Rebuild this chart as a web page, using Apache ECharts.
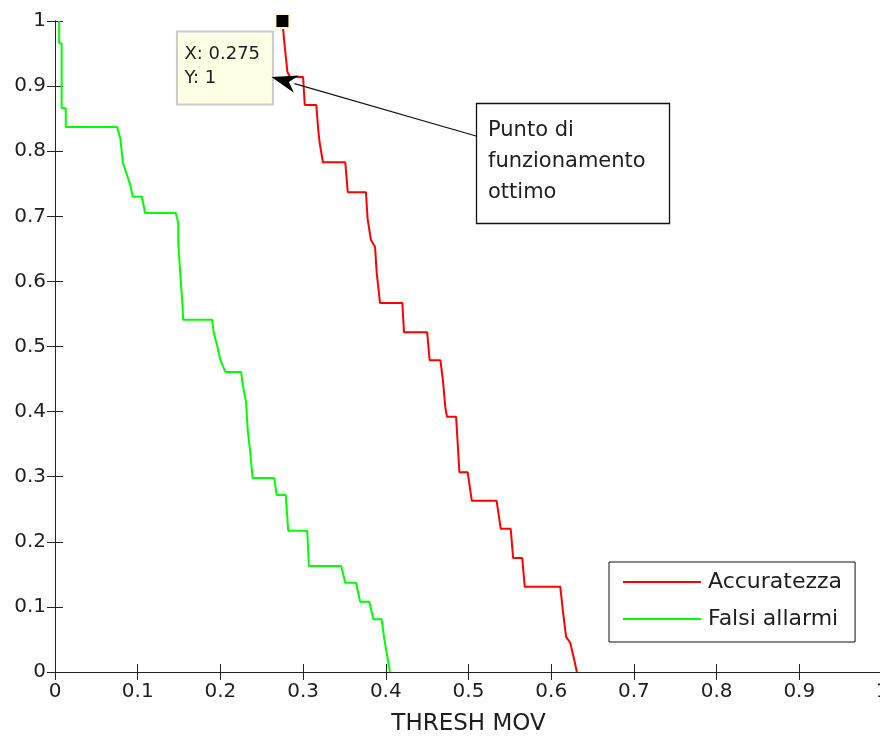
<!DOCTYPE html>
<html><head><meta charset="utf-8">
<script src="https://cdn.jsdelivr.net/npm/echarts@6/dist/echarts.min.js"></script>
<style>html,body{margin:0;padding:0;background:#fff}#c{width:880px;height:738px}</style>
</head><body><div id="c"></div>
<script>
// ---- data ----
const accX = [0.275,0.277,0.281,0.284,0.300,0.302,0.316,0.318,0.320,0.324,0.351,0.354,0.376,0.378,0.382,0.387,0.389,0.393,0.420,0.422,0.450,0.453,0.466,0.469,0.472,0.474,0.485,0.489,0.499,0.504,0.534,0.539,0.551,0.554,0.565,0.568,0.611,0.614,0.618,0.623,0.628,0.631];
const accY = [1.000,0.971,0.922,0.914,0.914,0.871,0.871,0.837,0.813,0.783,0.783,0.737,0.737,0.696,0.664,0.653,0.613,0.567,0.567,0.522,0.522,0.479,0.479,0.449,0.406,0.392,0.392,0.307,0.307,0.263,0.263,0.220,0.220,0.175,0.175,0.131,0.131,0.095,0.054,0.045,0.018,0.000];
const faX = [0.005,0.005,0.008,0.008,0.013,0.013,0.075,0.079,0.082,0.091,0.094,0.105,0.109,0.146,0.149,0.149,0.151,0.154,0.155,0.190,0.192,0.196,0.200,0.206,0.225,0.227,0.231,0.233,0.236,0.239,0.265,0.268,0.279,0.282,0.305,0.307,0.346,0.351,0.364,0.369,0.380,0.385,0.395,0.398,0.405];
const faY = [1.000,0.966,0.966,0.866,0.866,0.837,0.837,0.820,0.783,0.748,0.730,0.730,0.705,0.705,0.690,0.660,0.621,0.567,0.541,0.541,0.521,0.502,0.479,0.461,0.461,0.441,0.415,0.372,0.338,0.298,0.298,0.272,0.272,0.217,0.217,0.163,0.163,0.137,0.137,0.108,0.108,0.081,0.081,0.052,0.000];
const seriesNames = ['Accuratezza','Falsi allarmi'];
const optimum = [0.275, 1];
const tipLines = ['X: 0.275','Y: 1'];
const noteLines = ['Punto di','funzionamento','ottimo'];
const xTitle = 'THRESH MOV';

const zip = (xs, ys) => xs.map((x, i) => [x, ys[i]]);
const FONT = 'DejaVu Sans, Verdana, sans-serif';
const TXT = '#1e1e1e';
const chart = echarts.init(document.getElementById('c'), null, {renderer:'canvas'});

const axisCommon = {
  type:'value', min:0, max:1, interval:0.1,
  axisLine:{show:true, lineStyle:{color:'#222', width:1}},
  axisTick:{show:true, inside:true, length:8, lineStyle:{color:'#222'}},
  splitLine:{show:false}
};

chart.setOption({
  animation:false,
  backgroundColor:'#fff',
  grid:{left:55, top:21, width:827, height:651, containLabel:false, outerBoundsMode:'none'},
  xAxis:[
    Object.assign({}, axisCommon, {position:'bottom',
      axisLabel:{show:true, color:TXT, fontSize:20, fontFamily:FONT, margin:10},
      name:xTitle, nameLocation:'middle', nameGap:41,
      nameTextStyle:{color:TXT, fontSize:23, fontFamily:FONT}}),
    Object.assign({}, axisCommon, {position:'top', axisLabel:{show:false}})
  ],
  yAxis:[
    Object.assign({}, axisCommon, {position:'left',
      axisLabel:{show:true, color:TXT, fontSize:20, fontFamily:FONT, margin:9}}),
    Object.assign({}, axisCommon, {position:'right', axisLabel:{show:false}})
  ],
  legend:{
    orient:'vertical', left:609, top:562,
    backgroundColor:'#fff', borderColor:'#111', borderWidth:1,
    padding:[9,13,12,14], itemGap:15, itemWidth:78, itemHeight:2, icon:'rect',
    textStyle:{color:TXT, fontSize:22, lineHeight:22, fontFamily:FONT, padding:[0,0,0,2]},
    data:seriesNames
  },
  series:[
    {name:seriesNames[0], type:'line', data:zip(accX, accY), symbol:'none',
     lineStyle:{color:'#ff0000', width:2}, itemStyle:{color:'#ff0000'}, z:3,
     markPoint:{symbol:'rect', symbolSize:14, data:[{coord:optimum}],
       itemStyle:{color:'#000', borderColor:'#fffbcc', borderWidth:2}, label:{show:false}}},
    {name:seriesNames[1], type:'line', data:zip(faX, faY), symbol:'none',
     lineStyle:{color:'#00ff00', width:2}, itemStyle:{color:'#00ff00'}, z:3}
  ]
});

// annotations
const p = chart.convertToPixel({xAxisIndex:0, yAxisIndex:0}, optimum);
const tipBox = {x:p[0]-106, y:p[1]+10, w:96, h:73};
const note = {x:476, y:103, w:193, h:120};
const tip = [tipBox.x + tipBox.w - 1, p[1] + 56];
const start = [note.x, note.y + 33];
const dx = start[0]-tip[0], dy = start[1]-tip[1], L = Math.hypot(dx, dy);
const ux = dx/L, uy = dy/L, nx = -uy, ny = ux;
const hl = 26, hw = 9;
const bx = tip[0]+ux*hl, by = tip[1]+uy*hl;
const arrowPts = [tip, [bx+nx*hw, by+ny*hw], [tip[0]+ux*hl*0.7, tip[1]+uy*hl*0.7], [bx-nx*hw, by-ny*hw]];

chart.setOption({graphic:[
  {type:'rect', shape:{x:tipBox.x+0.5, y:tipBox.y+0.5, width:tipBox.w, height:tipBox.h},
   style:{fill:'#ffffe6', stroke:'#cacaca', lineWidth:2}, z:10},
  {type:'text', x:tipBox.x+8, y:tipBox.y+11, z:11,
   style:{text:tipLines.join('\n'), font:'18px '+FONT, fill:TXT, lineHeight:24}},
  {type:'line', shape:{x1:start[0], y1:start[1], x2:bx-ux*2, y2:by-uy*2},
   style:{stroke:'#111', lineWidth:1.3}, z:12},
  {type:'polygon', shape:{points:arrowPts}, style:{fill:'#000'}, z:12},
  {type:'rect', shape:{x:note.x+0.5, y:note.y+0.5, width:note.w, height:note.h},
   style:{fill:'#fff', stroke:'#111', lineWidth:1.3}, z:10},
  {type:'text', x:note.x+12, y:note.y+12, z:11,
   style:{text:noteLines.join('\n'), font:'21px '+FONT, fill:TXT, lineHeight:31}}
]});
</script>
</body></html>
